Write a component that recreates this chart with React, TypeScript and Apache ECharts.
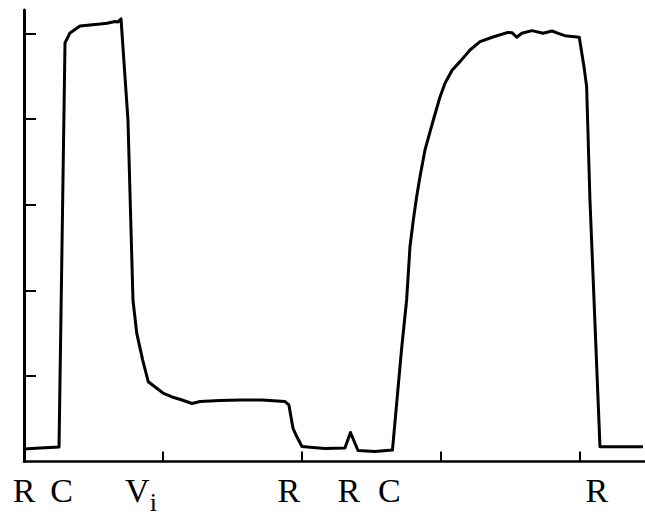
import React, { useEffect, useRef } from "react";
import * as echarts from "echarts";

// Trace values (x in tick units, y in tick units)
const traceX = [
  0, 0.115, 0.187, 0.252, 0.295, 0.331, 0.403, 0.547, 0.597, 0.655, 0.676, 0.698,
  0.748, 0.784, 0.811, 0.854, 0.894, 1.0, 1.065, 1.137, 1.209, 1.266, 1.41, 1.554,
  1.712, 1.878, 1.906, 1.935, 1.964, 2.0, 2.079, 2.165, 2.309, 2.349, 2.403, 2.525,
  2.651, 2.716, 2.753, 2.777, 2.801, 2.825, 2.849, 2.885, 2.945, 2.993, 3.029, 3.08,
  3.137, 3.209, 3.281, 3.374, 3.482, 3.511, 3.545, 3.581, 3.655, 3.734, 3.799, 3.844,
  3.892, 3.995, 4.029, 4.048, 4.072, 4.144, 4.453,
];
const traceY = [
  0.146, 0.158, 0.164, 0.17, 4.89, 5.006, 5.088, 5.11, 5.12, 5.14, 5.134, 5.17,
  3.99, 1.887, 1.5, 1.185, 0.932, 0.8, 0.754, 0.718, 0.678, 0.7, 0.713, 0.718,
  0.718, 0.7, 0.66, 0.391, 0.286, 0.175, 0.164, 0.152, 0.158, 0.339, 0.128, 0.117,
  0.134, 1.303, 1.887, 2.509, 2.82, 3.093, 3.327, 3.639, 3.989, 4.258, 4.418, 4.57,
  4.671, 4.807, 4.904, 4.959, 5.012, 5.009, 4.956, 5.002, 5.033, 5.002, 5.029, 5.002,
  4.974, 4.956, 4.612, 4.379, 3.055, 0.173, 0.173,
];

const xTicks = [1, 2, 3, 4];
const yTicks = [1, 2, 3, 4, 5];

// Event labels under the x axis
const eventPos = [0, 0.271, 0.815, 0.93, 1.905, 2.338, 2.628, 4.122];
const eventText = ["R", "C", "V", "i", "R", "R", "C", "R"];

export default function App() {
  const ref = useRef<HTMLDivElement>(null);
  useEffect(() => {
    if (!ref.current) return;
    const chart = echarts.init(ref.current, null, { renderer: "svg" });
    const data = traceX.map((x, i) => [x, traceY[i]]);
    chart.setOption({
      animation: false,
      backgroundColor: "#ffffff",
      grid: { left: 24, right: 0, top: 10, bottom: 55.5, containLabel: false },
      xAxis: {
        type: "value",
        min: 0,
        max: 4.468,
        splitLine: { show: false },
        axisLine: { show: true, onZero: false, lineStyle: { color: "#000", width: 2.5 } },
        axisTick: {
          show: true,
          inside: true,
          length: 10,
          customValues: xTicks,
          lineStyle: { color: "#000", width: 2 },
        },
        axisLabel: {
          show: true,
          customValues: eventPos,
          hideOverlap: false,
          margin: 12,
          color: "#000",
          fontFamily: "Liberation Serif",
          fontSize: 34,
          formatter: (v: number) => {
            let best = 0;
            let bd = Infinity;
            eventPos.forEach((p, i) => {
              const d = Math.abs(p - v);
              if (d < bd) {
                bd = d;
                best = i;
              }
            });
            const t = eventText[best];
            return t === "i" ? "{s|i}" : t;
          },
          rich: {
            s: {
              fontFamily: "Liberation Serif",
              fontSize: 26,
              color: "#000",
              padding: [16, 0, 0, 0],
            },
          },
        },
      },
      yAxis: {
        type: "value",
        min: 0,
        max: 5.274,
        splitLine: { show: false },
        axisLine: { show: true, lineStyle: { color: "#000", width: 3 } },
        axisTick: {
          show: true,
          inside: true,
          length: 12,
          customValues: yTicks,
          lineStyle: { color: "#000", width: 2 },
        },
        axisLabel: { show: false },
      },
      series: [
        {
          type: "line",
          data,
          showSymbol: false,
          symbol: "none",
          lineStyle: { color: "#000", width: 3, join: "round" },
          silent: true,
        },
      ],
    });
    return () => chart.dispose();
  }, []);
  return (
    <div
      ref={ref}
      style={{ position: "fixed", left: 0, top: 0, width: 645, height: 517, background: "#fff" }}
    />
  );
}
